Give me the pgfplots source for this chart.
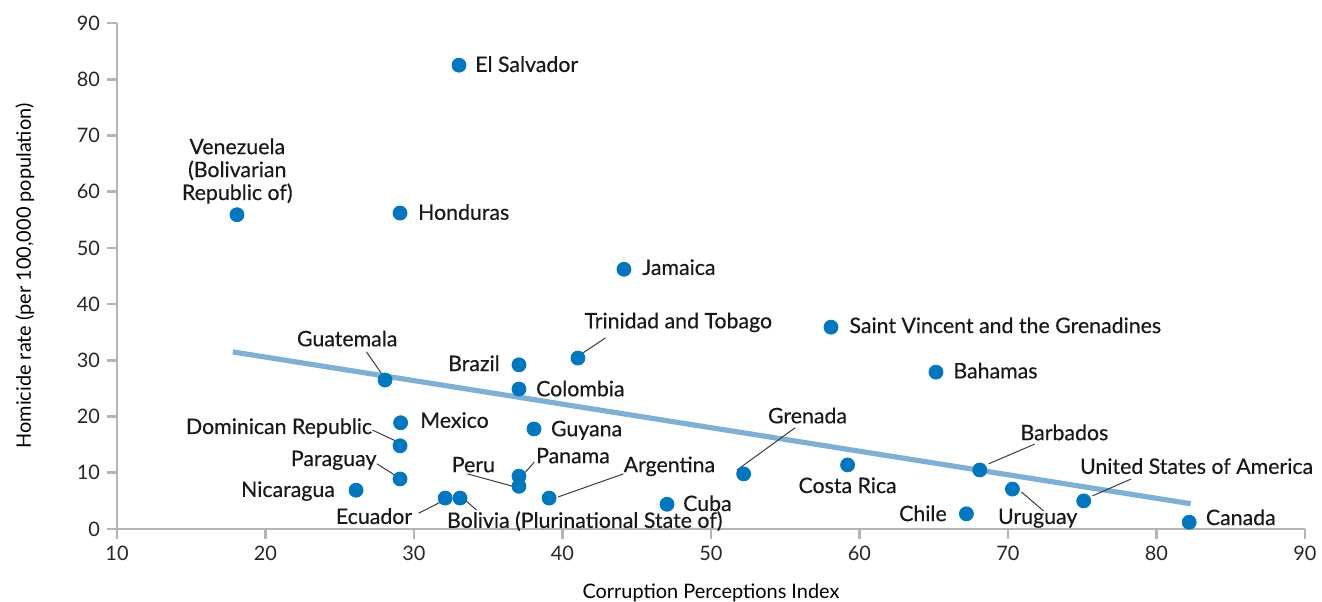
\documentclass[border=0pt]{standalone}
\usepackage{pgfplots}
\pgfplotsset{compat=1.18}
\usepackage{fontspec}
\setmainfont{Lato}
\newfontfamily\lblfont{Lato}[FakeBold=0.35]
\definecolor{dotblue}{RGB}{0,119,190}
\definecolor{trendblue}{RGB}{125,176,216}
\definecolor{axgray}{RGB}{180,180,184}
\definecolor{leadgray}{RGB}{60,60,60}

\pgfplotstableread{
x y
33.03 82.5
18.08 55.9
29.06 56.2
44.14 46.2
41.04 30.4
58.08 35.9
65.15 27.9
28.05 26.5
37.07 29.2
37.07 24.9
29.1 18.9
38.08 17.8
29.06 14.8
29.06 8.9
26.1 6.9
37.07 9.4
37.07 7.6
32.1 5.5
33.1 5.5
39.1 5.5
47.04 4.4
52.2 9.8
59.2 11.4
68.1 10.5
67.2 2.7
70.3 7.1
75.1 5.0
82.2 1.2
}\pts

\begin{document}
\begin{tikzpicture}
\begin{axis}[
  at={(0,0)}, anchor=south west,
  scale only axis, width=594bp, height=253bp,
  xmin=10, xmax=90, ymin=0, ymax=90,
  xtick={10,20,...,90}, ytick={0,10,...,90},
  axis x line=bottom, axis y line=left,
  axis line style={axgray, line width=1.3bp, -},
  tick style={axgray, line width=1.3bp},
  tick align=outside, major tick length=5bp,
  tick label style={font=\fontsize{10}{12}\selectfont, text=black!85},
  /pgf/number format/assume math mode=true,
  clip=false,
  xlabel={Corruption Perceptions Index},
  ylabel={Homicide rate (per 100,000 population)},
  label style={font=\fontsize{10}{12}\selectfont, text=black!85},
  every axis x label/.style={at={(axis description cs:0.5,-0.1265)}, anchor=center},
  every axis y label/.style={at={(axis description cs:-0.0775,0.5)}, rotate=90, anchor=center},
]
\addplot[trendblue, line width=2.6bp, no marks] coordinates {(17.8,31.5) (82.3,4.5)};
\addplot[only marks, mark=*, mark size=3.5bp, color=dotblue, draw=dotblue, fill=dotblue] table {\pts};

\begin{scope}[leadgray, line width=0.5bp]
\draw (axis cs:42.9,34.0) -- (axis cs:41.2,31.0);
\draw (axis cs:26.8,31.5) -- (axis cs:27.8,27.7);
\draw (axis cs:27.2,17.6) -- (axis cs:28.9,15.5);
\draw (axis cs:27.5,11.6) -- (axis cs:28.7,9.6);
\draw (axis cs:33.6,9.8) -- (axis cs:36.8,7.5);
\draw (axis cs:38.1,11.9) -- (axis cs:37.5,10.1);
\draw (axis cs:44.1,9.8) -- (axis cs:39.7,5.7);
\draw (axis cs:30.3,2.8) -- (axis cs:31.8,4.8);
\draw (axis cs:34.2,3.4) -- (axis cs:33.5,5.0);
\draw (axis cs:55.66,18.0) -- (axis cs:51.75,10.5);
\draw (axis cs:71.8,15.1) -- (axis cs:68.7,11.6);
\draw (axis cs:72.4,3.2) -- (axis cs:70.9,6.6);
\draw (axis cs:78.3,8.9) -- (axis cs:75.7,5.9);
\end{scope}

\begin{scope}[every node/.style={inner sep=0pt, font=\lblfont\fontsize{10.7}{11.5}\selectfont, text=black!90}]
\node[anchor=mid west] at (axis cs:34.1,82.2) {El Salvador};
\node[anchor=mid west] at (axis cs:30.25,55.9) {Honduras};
\node[anchor=mid west] at (axis cs:45.35,46.1) {Jamaica};
\node[anchor=mid west] at (axis cs:59.3,35.75) {Saint Vincent and the Grenadines};
\node[anchor=mid west] at (axis cs:66.3,27.7) {Bahamas};
\node[anchor=mid] at (axis cs:47.8,36.6) {Trinidad and Tobago};
\node[anchor=mid] at (axis cs:25.5,33.4) {Guatemala};
\node[anchor=mid east] at (axis cs:35.8,29.0) {Brazil};
\node[anchor=mid west] at (axis cs:38.2,24.5) {Colombia};
\node[anchor=mid west] at (axis cs:30.4,18.9) {Mexico};
\node[anchor=mid west] at (axis cs:39.2,17.4) {Guyana};
\node[anchor=mid east] at (axis cs:27.2,17.8) {Dominican Republic};
\node[anchor=mid east] at (axis cs:27.5,12.1) {Paraguay};
\node[anchor=mid east] at (axis cs:24.7,6.6) {Nicaragua};
\node[anchor=mid] at (axis cs:34.0,11.0) {Peru};
\node[anchor=mid west] at (axis cs:38.2,12.6) {Panama};
\node[anchor=mid] at (axis cs:47.2,11.0) {Argentina};
\node[anchor=mid east] at (axis cs:29.9,1.8) {Ecuador};
\node[anchor=mid west] at (axis cs:32.2,1.1) {Bolivia (Plurinational State of)};
\node[anchor=mid west] at (axis cs:48.1,4.1) {Cuba};
\node[anchor=mid] at (axis cs:56.5,19.7) {Grenada};
\node[anchor=mid] at (axis cs:59.2,7.3) {Costa Rica};
\node[anchor=mid] at (axis cs:73.8,16.7) {Barbados};
\node[anchor=mid] at (axis cs:82.7,10.7) {United States of America};
\node[anchor=mid] at (axis cs:72.0,1.8) {Uruguay};
\node[anchor=mid east] at (axis cs:65.9,2.3) {Chile};
\node[anchor=mid west] at (axis cs:83.3,1.6) {Canada};
\node[anchor=south, align=center] at (axis cs:18.1,57.8) {Venezuela\\(Bolivarian\\Republic of)};
\end{scope}
\end{axis}
\pgfresetboundingbox
\path[use as bounding box] (-58.5bp,-36.5bp) rectangle (602.5bp,264.5bp);
\end{tikzpicture}
\end{document}
